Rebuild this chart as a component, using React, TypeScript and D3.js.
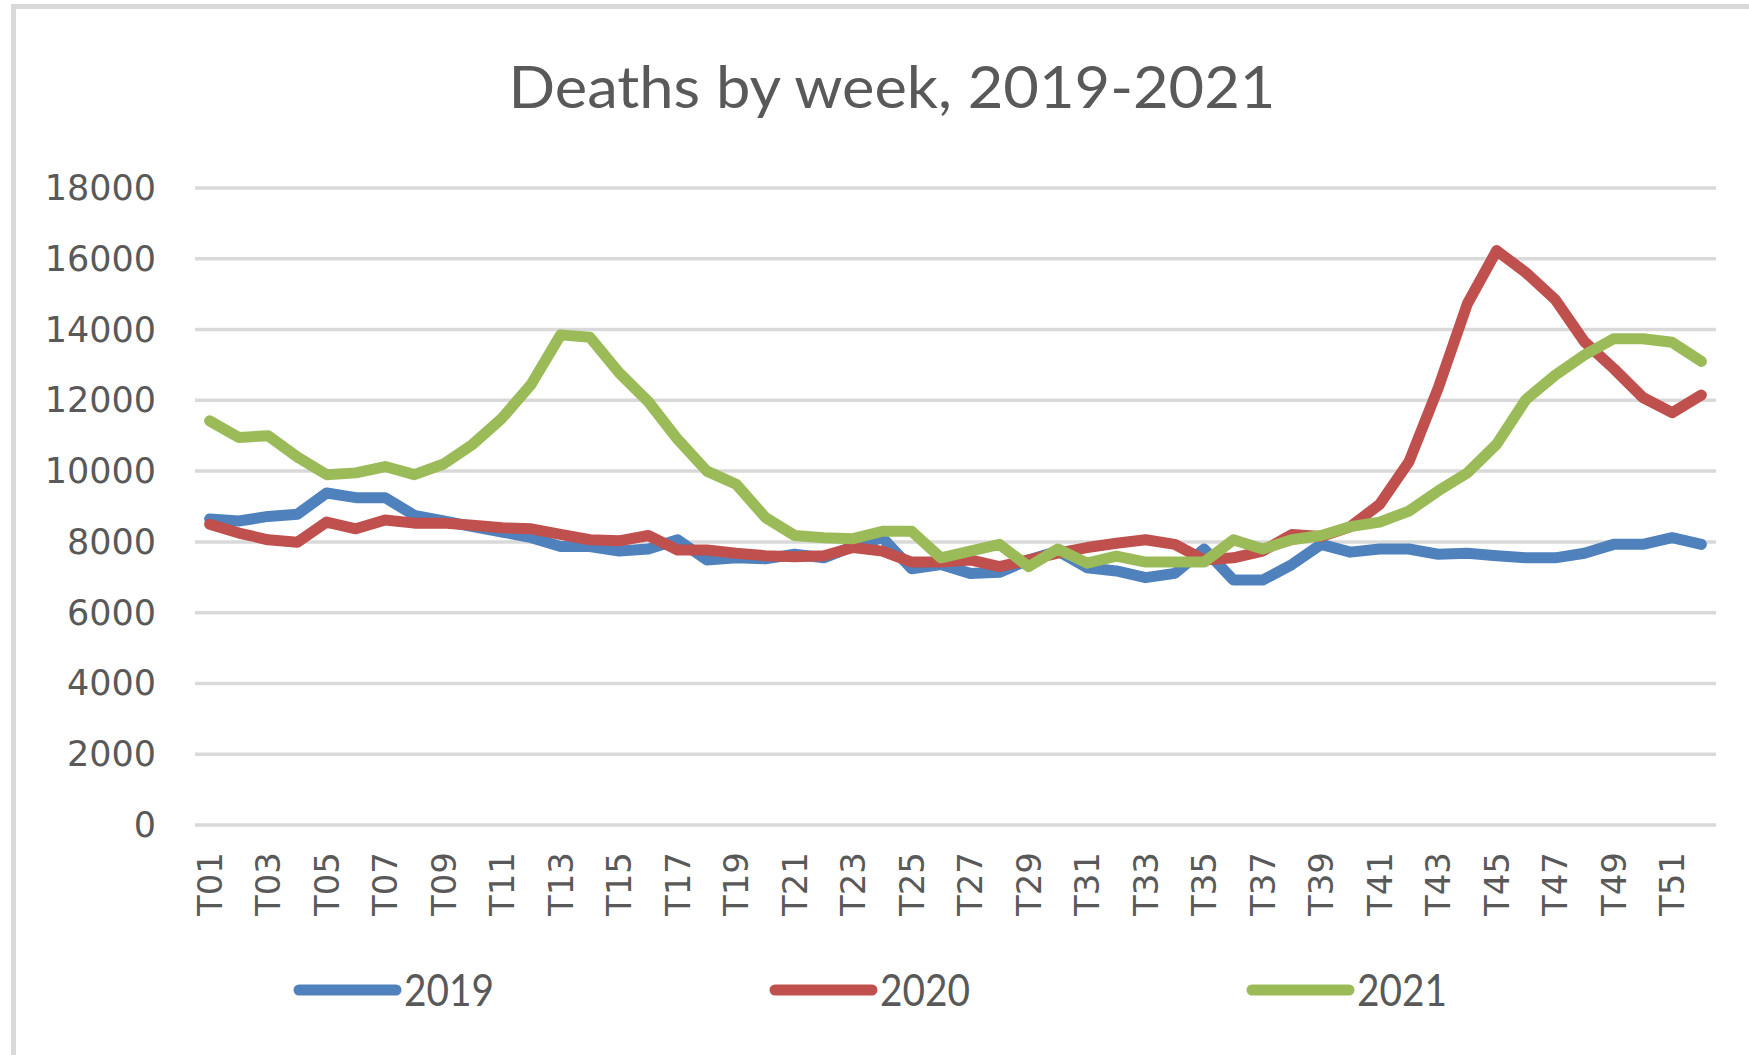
import React from "react";
import * as d3 from "d3";

const weeks: string[] = Array.from({ length: 52 }, (_, i) => `T${String(i + 1).padStart(2, "0")}`);
const yTicks: number[] = [0, 2000, 4000, 6000, 8000, 10000, 12000, 14000, 16000, 18000];

const deaths2019: number[] = [
  8650, 8590, 8720, 8780, 9380, 9250, 9250, 8750, 8590, 8430,
  8280, 8120, 7870, 7870, 7740, 7800, 8060, 7490, 7550, 7520,
  7650, 7550, 7870, 8120, 7240, 7360, 7110, 7140, 7490, 7740,
  7270, 7180, 6990, 7110, 7800, 6920, 6920, 7360, 7930, 7710,
  7800, 7800, 7650, 7680, 7610, 7550, 7550, 7680, 7930, 7930,
  8120, 7930,
];
const deaths2020: number[] = [
  8500, 8250, 8060, 7990, 8560, 8370, 8620, 8530, 8530, 8470,
  8400, 8370, 8210, 8060, 8030, 8180, 7770, 7770, 7680, 7610,
  7580, 7610, 7840, 7740, 7430, 7430, 7490, 7300, 7490, 7680,
  7840, 7960, 8060, 7930, 7490, 7550, 7740, 8210, 8150, 8430,
  9060, 10260, 12340, 14730, 16230, 15610, 14850, 13660, 12900, 12080,
  11650, 12150,
];
const deaths2021: number[] = [
  11420, 10950, 11000, 10400, 9900, 9950, 10130, 9900, 10200, 10760,
  11500, 12460, 13850, 13780, 12780, 11960, 10900, 10000, 9630, 8690,
  8180, 8120, 8090, 8300, 8300, 7550, 7740, 7930, 7300, 7800,
  7400, 7600, 7430, 7430, 7430, 8060, 7800, 8060, 8180, 8430,
  8560, 8870, 9440, 9950, 10760, 12020, 12710, 13280, 13740, 13740,
  13640, 13100,
];

const seriesNames: string[] = ["2019", "2020", "2021"];
const seriesColors: string[] = ["#4f81bd", "#c0504d", "#9bbb59"];
const seriesData: number[][] = [deaths2019, deaths2020, deaths2021];

export default function App() {
  const W = 1749;
  const H = 1055;
  const x = d3.scalePoint<string>().domain(weeks).range([195, 1716]).padding(0.5);
  const y = d3.scaleLinear().domain([0, 18000]).range([825, 188]);
  const line = d3
    .line<number>()
    .x((_, i) => x(weeks[i]) as number)
    .y((d) => y(d));
  const textColor = "#595959";
  const legendX = [299, 775, 1252];

  return (
    <svg
      width={W}
      height={H}
      style={{ position: "absolute", left: 0, top: 0, background: "#fff" }}
    >
      <rect x={0} y={0} width={W} height={H} fill="#fff" />
      {/* frame */}
      <line x1={13.5} x2={13.5} y1={4} y2={H} stroke="#d9d9d9" strokeWidth={5} />
      <line x1={11} x2={W} y1={6.5} y2={6.5} stroke="#d9d9d9" strokeWidth={5} />
      <text
        x={892}
        y={108}
        textAnchor="middle"
        fontFamily="Lato, 'Open Sans', sans-serif"
        fontSize={58}
        fill={textColor}
        textLength={767}
        lengthAdjust="spacingAndGlyphs"
      >
        Deaths by week, 2019-2021
      </text>
      {yTicks.map((t) => (
        <g key={t}>
          <line x1={195} x2={1716} y1={y(t)} y2={y(t)} stroke="#d9d9d9" strokeWidth={3.5} />
          <text
            x={156}
            y={y(t)}
            textAnchor="end"
            dominantBaseline="central"
            fontFamily="'DejaVu Sans', sans-serif"
            fontSize={35}
            fill={textColor}
          >
            {t}
          </text>
        </g>
      ))}
      {weeks.map((w, i) =>
        i % 2 === 0 ? (
          <text
            key={w}
            transform={`translate(${(x(w) as number) + 12},${852}) rotate(-90)`}
            textAnchor="end"
            fontFamily="'DejaVu Sans', sans-serif"
            fontSize={34}
            fill={textColor}
          >
            {w}
          </text>
        ) : null
      )}
      {seriesData.map((s, k) => (
        <path
          key={seriesNames[k]}
          d={line(s) as string}
          fill="none"
          stroke={seriesColors[k]}
          strokeWidth={11}
          strokeLinejoin="round"
          strokeLinecap="round"
        />
      ))}
      {seriesNames.map((n, k) => (
        <g key={n}>
          <line
            x1={legendX[k]}
            x2={legendX[k] + 97}
            y1={990}
            y2={990}
            stroke={seriesColors[k]}
            strokeWidth={11}
            strokeLinecap="round"
          />
          <text
            x={legendX[k] + 105}
            y={1006}
            fontFamily="Lato, 'Open Sans', sans-serif"
            fontSize={44}
            fill={textColor}
            textLength={90}
            lengthAdjust="spacingAndGlyphs"
          >
            {n}
          </text>
        </g>
      ))}
    </svg>
  );
}
